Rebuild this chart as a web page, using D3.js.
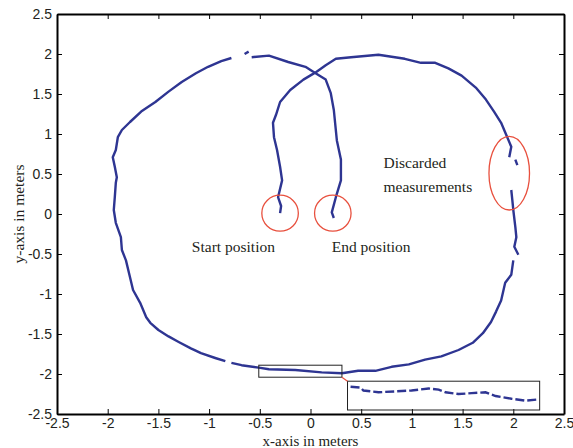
<!DOCTYPE html>
<html>
<head>
<meta charset="utf-8">
<script src="https://cdn.jsdelivr.net/npm/d3@7"></script>
<style>
  body { margin: 0; background: #fff; }
  .tick text { font-family: "Liberation Sans", Arial, sans-serif; font-size: 14px; fill: #231f20; }
  .note { font-family: "Liberation Serif", "Times New Roman", serif; font-size: 15.5px; fill: #231f20; }
</style>
</head>
<body>
<div id="chart"></div>
<script>
var svgWidth = 573;
var svgHeight = 448;

var margin = { top: 14, right: 9, bottom: 34, left: 57 };
var width = svgWidth - margin.left - margin.right;
var height = svgHeight - margin.top - margin.bottom;

// tick values shared by both axes
var tickValues = [-2.5, -2, -1.5, -1, -0.5, 0, 0.5, 1, 1.5, 2, 2.5];

// robot track in meters, null = gap (discarded / missing measurements)
var track = [
  [-0.30, 0.01], [-0.29, 0.10], [-0.32, 0.21], [-0.28, 0.42], [-0.30, 0.59], [-0.33, 0.80],
  [-0.36, 0.96], [-0.37, 1.14], [-0.34, 1.24], [-0.30, 1.40], [-0.20, 1.55], [-0.07, 1.68],
  [0.05, 1.77], [0.15, 1.86], [0.25, 1.94], [0.40, 1.96], [0.67, 1.99], [0.93, 1.94],
  [1.09, 1.89], [1.23, 1.89], [1.36, 1.82], [1.49, 1.73], [1.63, 1.58], [1.73, 1.43],
  [1.81, 1.28], [1.88, 1.14], [1.93, 0.99], [1.98, 0.84], [1.96, 0.71], null,
  [2.02, 0.68], [2.04, 0.61], null,
  [1.98, 0.30], [1.99, 0.18], [2.00, 0.05], [2.02, -0.16], [2.03, -0.29], [2.01, -0.41],
  [2.05, -0.51], null,
  [2.00, -0.58], [1.98, -0.76], [1.92, -0.86], [1.88, -1.08], [1.83, -1.22], [1.78, -1.35],
  [1.70, -1.49], [1.60, -1.61], [1.46, -1.70], [1.29, -1.78], [1.13, -1.82], [0.97, -1.88],
  [0.80, -1.91], [0.64, -1.96], [0.47, -1.96], [0.31, -1.99], [0.11, -1.98], [-0.15, -1.95],
  [-0.41, -1.94], [-0.51, -1.92], [-0.68, -1.89], [-0.78, -1.86], null,
  [-0.84, -1.84], [-0.94, -1.80], [-1.08, -1.74], [-1.18, -1.68], [-1.30, -1.60],
  [-1.40, -1.53], [-1.50, -1.45], [-1.58, -1.36], [-1.62, -1.29], [-1.68, -1.11],
  [-1.75, -0.95], [-1.78, -0.79], [-1.82, -0.58], [-1.86, -0.45], [-1.87, -0.29],
  [-1.92, -0.11], [-1.94, 0.05], [-1.93, 0.21], [-1.92, 0.39], [-1.91, 0.46], [-1.93, 0.59],
  [-1.95, 0.71], [-1.92, 0.80], [-1.90, 0.96], [-1.86, 1.05], [-1.78, 1.15], [-1.67, 1.28],
  [-1.53, 1.40], [-1.40, 1.53], [-1.27, 1.65], [-1.13, 1.76], [-1.01, 1.84], [-0.88, 1.91],
  [-0.78, 1.95], null,
  [-0.65, 2.00], [-0.61, 2.03], null,
  [-0.58, 1.96], [-0.41, 1.98], [-0.22, 1.90], [-0.05, 1.84], [0.05, 1.76], [0.15, 1.68],
  [0.20, 1.51], [0.23, 1.30], [0.26, 0.92], [0.30, 0.68], [0.30, 0.42], [0.25, 0.21],
  [0.21, 0.02], [0.23, -0.05]
];

// zoom window on the bottom of the track, and where it is magnified
var zoomWindow = { x0: -0.51, x1: 0.31, y0: -2.04, y1: -1.89 };
var insetBox = { x0: 0.365, x1: 2.26, y0: -2.45, y1: -2.09 };

// track inside the zoom window (magnified in the inset)
var insetTrack = [
  [-0.497, -1.921], [-0.454, -1.926], [-0.442, -1.942], [-0.378, -1.952], [-0.305, -1.947],
  [-0.237, -1.942], [-0.164, -1.931], [-0.121, -1.937], [-0.092, -1.952], [-0.036, -1.962],
  [0.020, -1.957], [0.079, -1.952], [0.122, -1.973], [0.190, -1.988], [0.250, -1.999],
  [0.297, -1.993]
];

// red markers: centre and radii in meters
var markers = [
  { cx: -0.30, cy: 0.01, rx: 0.18, ry: 0.225 },
  { cx: 0.22, cy: 0.01, rx: 0.18, ry: 0.225 },
  { cx: 1.96, cy: 0.51, rx: 0.2, ry: 0.46 }
];

var notes = [
  { x: -1.17, y: -0.47, text: "Start position" },
  { x: 0.21, y: -0.47, text: "End position" },
  { x: 0.72, y: 0.57, text: "Discarded" },
  { x: 0.72, y: 0.27, text: "measurements" }
];

var svg = d3.select("#chart")
  .append("svg")
  .attr("width", svgWidth)
  .attr("height", svgHeight);

var chartGroup = svg.append("g")
  .attr("transform", `translate(${margin.left}, ${margin.top})`);

var xScale = d3.scaleLinear().domain([-2.5, 2.5]).range([0, width]);
var yScale = d3.scaleLinear().domain([-2.5, 2.5]).range([height, 0]);

// inset scales map the zoom window into the inset box
var xInset = d3.scaleLinear()
  .domain([zoomWindow.x0, zoomWindow.x1])
  .range([xScale(insetBox.x0), xScale(insetBox.x1)]);
var yInset = d3.scaleLinear()
  .domain([zoomWindow.y0, zoomWindow.y1])
  .range([yScale(insetBox.y0) - 2, yScale(insetBox.y1)]);

var fmt = d => String(d);

// axes, ticks pointing inward like matlab
chartGroup.append("g")
  .attr("transform", `translate(0, ${height})`)
  .call(d3.axisBottom(xScale).tickValues(tickValues).tickFormat(fmt)
    .tickSizeInner(-5).tickSizeOuter(0).tickPadding(4));
chartGroup.append("g")
  .call(d3.axisLeft(yScale).tickValues(tickValues).tickFormat(fmt)
    .tickSizeInner(-5).tickSizeOuter(0).tickPadding(5));
chartGroup.append("g")
  .call(d3.axisTop(xScale).tickValues(tickValues).tickFormat("")
    .tickSizeInner(-5).tickSizeOuter(0));
chartGroup.append("g")
  .attr("transform", `translate(${width}, 0)`)
  .call(d3.axisRight(yScale).tickValues(tickValues).tickFormat("")
    .tickSizeInner(-5).tickSizeOuter(0));

chartGroup.selectAll(".domain").attr("stroke", "#000").attr("stroke-width", 2);
chartGroup.selectAll(".tick line").attr("stroke", "#000").attr("stroke-width", 1);
chartGroup.selectAll(".tick text").attr("dy", "0.32em");
chartGroup.select("g").selectAll(".tick text").attr("dy", "0.71em");

var line = d3.line()
  .defined(d => d !== null)
  .x(d => xScale(d[0]))
  .y(d => yScale(d[1]));

chartGroup.append("path")
  .datum(track)
  .attr("d", line)
  .attr("fill", "none")
  .attr("stroke", "#2e3592")
  .attr("stroke-width", 2.4)
  .attr("stroke-linejoin", "round");

// zoom window box
chartGroup.append("rect")
  .attr("x", xScale(zoomWindow.x0))
  .attr("y", yScale(zoomWindow.y1))
  .attr("width", xScale(zoomWindow.x1) - xScale(zoomWindow.x0))
  .attr("height", yScale(zoomWindow.y0) - yScale(zoomWindow.y1))
  .attr("fill", "none")
  .attr("stroke", "#222")
  .attr("stroke-width", 1);

// inset box
chartGroup.append("rect")
  .attr("x", xScale(insetBox.x0))
  .attr("y", yScale(insetBox.y1))
  .attr("width", xScale(insetBox.x1) - xScale(insetBox.x0))
  .attr("height", yScale(insetBox.y0) - yScale(insetBox.y1))
  .attr("fill", "none")
  .attr("stroke", "#222")
  .attr("stroke-width", 1);

// red link between the two boxes
chartGroup.append("line")
  .attr("x1", xScale(zoomWindow.x1))
  .attr("y1", yScale(zoomWindow.y0))
  .attr("x2", xScale(insetBox.x0))
  .attr("y2", yScale(insetBox.y1))
  .attr("stroke", "#e8503e")
  .attr("stroke-width", 1.2);

var insetLine = d3.line()
  .x(d => xInset(d[0]))
  .y(d => yInset(d[1]));

chartGroup.append("path")
  .datum(insetTrack)
  .attr("d", insetLine)
  .attr("fill", "none")
  .attr("stroke", "#2e3592")
  .attr("stroke-width", 2.4)
  .attr("stroke-dasharray", "9,3");

// red circles / ellipse
chartGroup.selectAll(".marker")
  .data(markers)
  .enter()
  .append("ellipse")
  .attr("cx", d => xScale(d.cx))
  .attr("cy", d => yScale(d.cy))
  .attr("rx", d => xScale(d.cx + d.rx) - xScale(d.cx))
  .attr("ry", d => yScale(d.cy) - yScale(d.cy + d.ry))
  .attr("fill", "none")
  .attr("stroke", "#e8503e")
  .attr("stroke-width", 1.3);

chartGroup.selectAll(".note")
  .data(notes)
  .enter()
  .append("text")
  .attr("class", "note")
  .attr("x", d => xScale(d.x))
  .attr("y", d => yScale(d.y))
  .text(d => d.text);

// axis titles
svg.append("text")
  .attr("class", "note")
  .attr("x", margin.left + width / 2)
  .attr("y", 446)
  .attr("text-anchor", "middle")
  .style("font-size", "15px")
  .text("x-axis in meters");

svg.append("text")
  .attr("class", "note")
  .attr("transform", `translate(24, ${margin.top + height / 2}) rotate(-90)`)
  .attr("text-anchor", "middle")
  .text("y-axis in meters");
</script>
</body>
</html>
